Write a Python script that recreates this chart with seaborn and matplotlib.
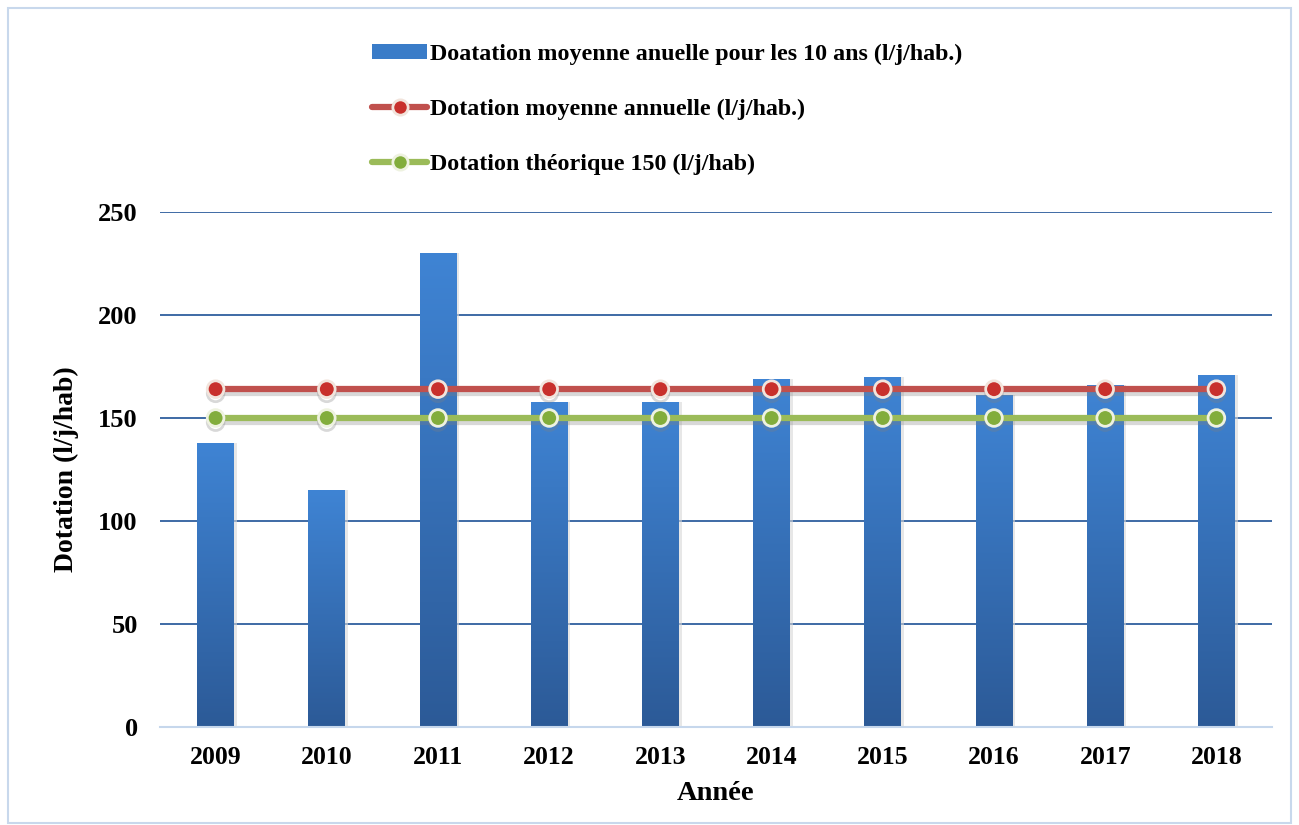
import numpy as np
import pandas as pd
import matplotlib
matplotlib.use("Agg")
import matplotlib.pyplot as plt
import matplotlib.patheffects as pe
from matplotlib.lines import Line2D
from matplotlib.patches import Patch, Rectangle
from matplotlib.colors import LinearSegmentedColormap
import seaborn as sns

years = ["2009", "2010", "2011", "2012", "2013", "2014", "2015", "2016", "2017", "2018"]
dotation_annuelle = [138, 115, 230, 158, 158, 169, 170, 161, 166, 171]
dotation_moyenne = [164, 164, 164, 164, 164, 164, 164, 164, 164, 164]
dotation_theorique = [150, 150, 150, 150, 150, 150, 150, 150, 150, 150]
yticks = [0, 50, 100, 150, 200, 250]

label_bar = "Doatation moyenne anuelle pour les 10 ans (l/j/hab.)"
label_red = "Dotation moyenne annuelle (l/j/hab.)"
label_green = "Dotation théorique 150 (l/j/hab)"

sns.set_theme(style="white")
plt.rcParams['font.family'] = ['Liberation Serif', 'DejaVu Serif']
plt.rcParams['font.weight'] = 'bold'
plt.rcParams['text.color'] = 'black'
plt.rcParams['axes.labelcolor'] = 'black'
plt.rcParams['xtick.color'] = 'black'
plt.rcParams['ytick.color'] = 'black'

fig = plt.figure(figsize=(12.99, 8.25), dpi=100)
ax = fig.add_axes([160/1299, 1-727/825, (1272-160)/1299, (727-212)/825])

df = pd.DataFrame({"year": years, "val": dotation_annuelle})
sns.barplot(data=df, x="year", y="val", ax=ax, color="#3a7cc8", width=0.33,
            saturation=1, edgecolor="none", zorder=2)

# gradient fill on bars
grad = np.linspace(0, 1, 256).reshape(-1, 1)
cmap = LinearSegmentedColormap.from_list("bg", ["#3f84d4", "#2c5a97"])
for p in list(ax.patches):
    x0, y0 = p.get_x(), p.get_y()
    w, h = p.get_width(), p.get_height()
    sh = Rectangle((x0 + w, y0), w * 0.08, h, facecolor="#d8d8d8", edgecolor="none",
                   alpha=0.6, zorder=1.9)
    ax.add_patch(sh)
    im = ax.imshow(grad, extent=(x0, x0 + w, y0, y0 + h), cmap=cmap, aspect="auto",
                   origin="upper", zorder=2.1, interpolation="bicubic")
    im.set_clip_path(p)

xs = np.arange(len(years))
shadow = [pe.SimpleLineShadow(offset=(0, -3), shadow_color="gray", alpha=0.3, rho=0.9), pe.Normal()]
ax.plot(xs, dotation_moyenne, color="#c0504d", lw=4.5, marker="o", markersize=12,
        markerfacecolor="#c8302c", markeredgecolor="#f2e4dc", markeredgewidth=2,
        zorder=4, path_effects=shadow)
ax.plot(xs, dotation_theorique, color="#9bbb59", lw=4.5, marker="o", markersize=12,
        markerfacecolor="#82ad3c", markeredgecolor="#eef2e0", markeredgewidth=2,
        zorder=4, path_effects=shadow)

ax.set_ylim(0, 250)
ax.set_xlim(-0.5, len(years) - 0.5)
ax.set_yticks(yticks)
ax.set_yticklabels([str(t) for t in yticks], fontsize=19, fontweight="bold")
ax.set_xticks(xs)
ax.set_xticklabels(years, fontsize=18.5, fontweight="bold")
ax.tick_params(axis="x", length=0, pad=14)
ax.tick_params(axis="y", length=0, pad=16)
for t in yticks[1:]:
    ax.axhline(t, color="#2f5f9e", lw=1.3, zorder=1)
for s in ["top", "right", "left"]:
    ax.spines[s].set_visible(False)
ax.spines["bottom"].set_color("#c6d7ec")
ax.spines["bottom"].set_linewidth(1.5)
ax.grid(False)

ax.set_xlabel("Année", fontsize=20.5, fontweight="bold", labelpad=8)
ax.set_ylabel("Dotation (l/j/hab)", fontsize=20, fontweight="bold", labelpad=14)

handles = [
    Patch(facecolor="#3a7cc8", edgecolor="none"),
    Line2D([0], [0], color="#c0504d", lw=4.5, marker="o", markersize=11,
           markerfacecolor="#c8302c", markeredgecolor="#f2e4dc", markeredgewidth=2),
    Line2D([0], [0], color="#9bbb59", lw=4.5, marker="o", markersize=11,
           markerfacecolor="#82ad3c", markeredgecolor="#eef2e0", markeredgewidth=2),
]
leg = fig.legend(handles, [label_bar, label_red, label_green], loc="upper left",
                 bbox_to_anchor=(372/1299, 1-44/825), bbox_transform=fig.transFigure,
                 frameon=False, prop={"weight": "bold", "size": 17.3},
                 handlelength=2.3, handleheight=0.6, handletextpad=0.1,
                 labelspacing=1.4, borderpad=0, borderaxespad=0)

fig.patches.append(Rectangle((8/1299, 2/825), 1-16/1299, 1-10/825, transform=fig.transFigure,
                             fill=False, edgecolor="#c8d8ec", lw=1.5, zorder=0))

fig.savefig("out.png", dpi=100)
